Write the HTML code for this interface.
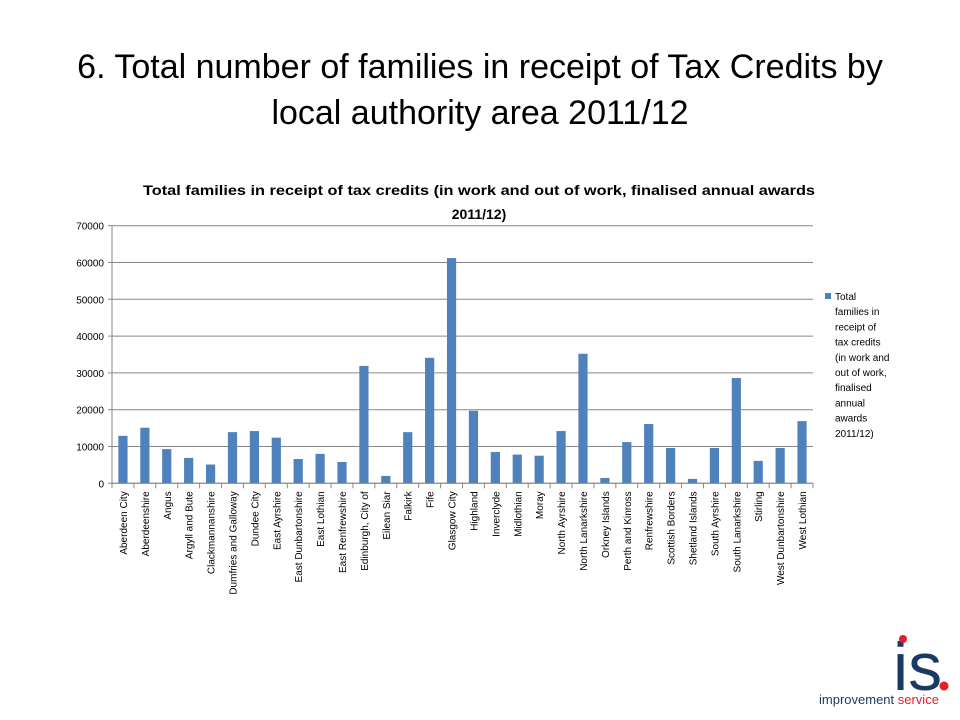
<!DOCTYPE html>
<html><head><meta charset="utf-8"><style>
body{margin:0;background:#fff;width:960px;height:720px;overflow:hidden;font-family:"Liberation Sans",sans-serif}
#t{position:absolute;left:0;top:44px;width:960px;text-align:center;font-size:34px;line-height:46px;color:#000}
</style></head><body>
<div id="t">6. Total number of families in receipt of Tax Credits by<br>local authority area 2011/12</div>
<svg id="c" width="960" height="720" style="position:absolute;left:0;top:0"></svg>
<script>
const categories=["Aberdeen City","Aberdeenshire","Angus","Argyll and Bute","Clackmannanshire","Dumfries and Galloway","Dundee City","East Ayrshire","East Dunbartonshire","East Lothian","East Renfrewshire","Edinburgh, City of","Eilean Siar","Falkirk","Fife","Glasgow City","Highland","Inverclyde","Midlothian","Moray","North Ayrshire","North Lanarkshire","Orkney Islands","Perth and Kinross","Renfrewshire","Scottish Borders","Shetland Islands","South Ayrshire","South Lanarkshire","Stirling","West Dunbartonshire","West Lothian"];
const values=[12900,15100,9300,6900,5100,13900,14200,12400,6600,8000,5800,31900,2000,13900,34100,61200,19700,8500,7800,7500,14200,35200,1450,11200,16100,9600,1200,9600,28600,6100,9600,16900];
const ticks=[0,10000,20000,30000,40000,50000,60000,70000];
const NS="http://www.w3.org/2000/svg",svg=document.getElementById('c');
const L=112,R=813,T=225.7,B=483.3,maxV=70000;
const y=v=>B-(v/maxV)*(B-T);
const bw=(R-L)/categories.length;
const x=i=>L+i*bw;
function mk(tag,a,txt){const e=document.createElementNS(NS,tag);for(const k in a)e.setAttribute(k,a[k]);if(txt!=null)e.textContent=txt;svg.appendChild(e);return e;}
let e=mk('text',{x:479,y:195,'text-anchor':'middle','font-size':14,'font-weight':'bold',textLength:672,lengthAdjust:'spacingAndGlyphs'},'Total families in receipt of tax credits (in work and out of work, finalised annual awards');


e=mk('text',{x:479,y:219,'text-anchor':'middle','font-size':14,'font-weight':'bold'},'2011/12)');


ticks.forEach(t=>{
 const g=mk('line',{x1:L,x2:R,y1:y(t),y2:y(t),stroke:'#878787','stroke-width':1});
 
 
 const l=mk('line',{x1:L-4,x2:L,y1:y(t),y2:y(t),stroke:'#878787'});
 
 
 const tx=mk('text',{x:L-8,y:y(t)+4,'text-anchor':'end','font-size':10},String(t));
 
 
});
e=mk('line',{x1:L,x2:L,y1:T,y2:B,stroke:'#878787'});


for(let i=0;i<=categories.length;i++){
 const t=mk('line',{x1:x(i),x2:x(i),y1:B,y2:B+5,stroke:'#878787'});
 
 
}
categories.forEach((c,i)=>{
 const w=bw*0.42,cx=x(i)+bw/2;
 const r=mk('rect',{x:cx-w/2,y:y(values[i]),width:w,height:B-y(values[i]),fill:'#4f81bd'});
 
 
 const tx=mk('text',{x:0,y:0,'text-anchor':'end','font-size':10,transform:`translate(${cx+4},${B+8}) rotate(-90)`},c);
 
 
});
e=mk('line',{x1:L,x2:R,y1:B,y2:B,stroke:'#878787'});


e=mk('rect',{x:825,y:293,width:6,height:6,fill:'#4f81bd'});


["Total","families in","receipt of","tax credits","(in work and","out of work,","finalised","annual","awards","2011/12)"].forEach((s,i)=>{
 const tx=mk('text',{x:835,y:300+i*15.2,'font-size':10},s);
 
 
});
e=mk('text',{x:893,y:690,'font-size':68,fill:'#1a3a63','font-family':'Liberation Sans, sans-serif'},'is');


mk('circle',{cx:903,cy:639,r:4,fill:'#e3202a'});
mk('circle',{cx:944,cy:686,r:4.5,fill:'#e3202a'});
e=mk('text',{x:819,y:704,'font-size':13},'');


const a=document.createElementNS(NS,'tspan');a.setAttribute('fill','#1a3a63');a.textContent='improvement ';e.appendChild(a);
const b=document.createElementNS(NS,'tspan');b.setAttribute('fill','#e3202a');b.textContent='service';e.appendChild(b);
</script>
</body></html>
